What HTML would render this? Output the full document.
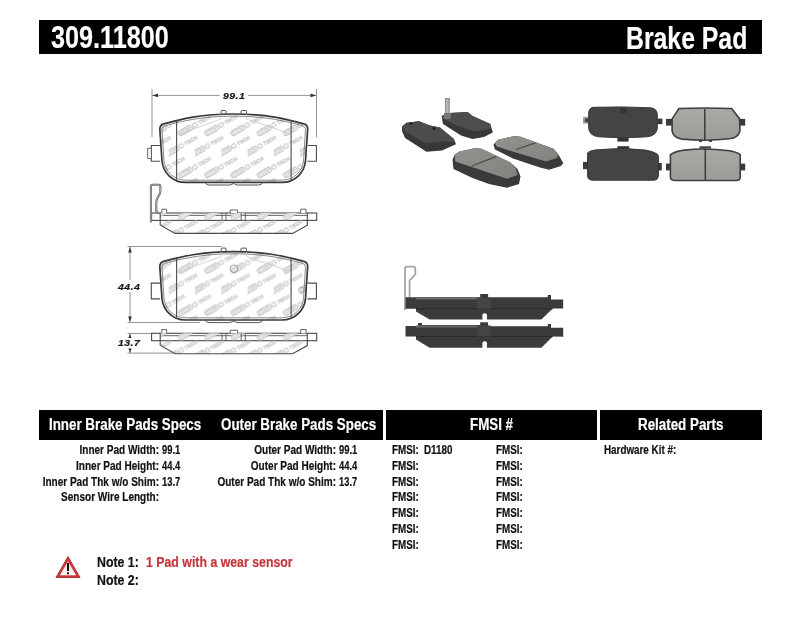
<!DOCTYPE html>
<html><head><meta charset="utf-8">
<style>
html,body{margin:0;padding:0;background:#fff;width:800px;height:619px;overflow:hidden;position:relative;font-family:"Liberation Sans",sans-serif;}
.t{position:absolute;white-space:nowrap;font-weight:bold;line-height:1;transform-origin:0 0;-webkit-text-stroke:0.2px currentColor;}
.bar{position:absolute;background:#000;}
.w{color:#fff;}
.r{text-align:right;}
.lab{font-size:12px;text-align:right;transform-origin:100% 0;transform:scaleX(0.835);color:#111;}
.val{font-size:12px;transform:scaleX(0.82);color:#111;}
.v2{transform:scaleX(0.78);}
.dim{font-size:9.4px;font-style:italic;color:#1a1a1a;transform:scaleX(1.12);letter-spacing:0.4px;}
.note{font-size:14.5px;transform:scaleX(0.85);color:#111;}
</style></head><body>
<!-- top title bar -->
<div class="bar" style="left:39px;top:20px;width:723px;height:34px;"></div>
<div class="t w" style="left:51px;top:21px;font-size:32px;transform:scaleX(0.788);">309.11800</div>
<div class="t w" style="left:626px;top:22px;font-size:32px;transform:scaleX(0.775);">Brake Pad</div>


<!-- technical drawing -->
<svg style="position:absolute;left:0;top:0;" width="800" height="400" viewBox="0 0 800 400">
<defs>
<pattern id="wm" patternUnits="userSpaceOnUse" width="26.25" height="42" x="195" y="125">
  <g id="wmi" transform="rotate(-30)">
    <rect x="-18.5" y="-2.6" width="15" height="5.2" rx="1.6" fill="#f4f4f4" stroke="#b4b4b4" stroke-width="0.8"/>
    <text x="-11" y="1.8" font-family="Liberation Sans" font-weight="bold" font-size="5" text-anchor="middle" fill="#c6c6c6" stroke="none" textLength="13" lengthAdjust="spacingAndGlyphs">STOP</text>
    <circle cx="0" cy="0" r="2.3" fill="#f4f4f4" stroke="#b0b0b0" stroke-width="0.7"/>
    <text x="11" y="1.8" font-family="Liberation Sans" font-weight="bold" font-size="5" text-anchor="middle" fill="none" stroke="#c4c4c4" stroke-width="0.45" textLength="14" lengthAdjust="spacingAndGlyphs">TECH</text>
  </g>
  <use href="#wmi" x="26.25"/>
  <use href="#wmi" y="42"/>
  <use href="#wmi" x="26.25" y="42"/>
  <use href="#wmi" x="12.5" y="21"/>
  <use href="#wmi" x="-13.75" y="21"/>
</pattern>
<g id="padface">
  <path d="M159.8 129 Q159.8 124.5 164.5 123.6 C180 119.5 200 114 233.75 114 C267.5 114 287.5 119.5 303 123.6 Q307.7 124.5 307.7 129 L305.5 161 C304.5 172 295.5 182.4 282 182.4 L185.5 182.4 C172 182.4 163 172 162 161 Z" fill="url(#wm)" stroke="#383838" stroke-width="1.7"/>
  <path d="M162 129.5 Q162 126.3 165.5 125.6 C181 121.5 201 116.2 233.75 116.2 C266.5 116.2 286.5 121.5 302 125.6 Q305.5 126.3 305.5 129.5 L303.5 161 C302.5 170.5 294.5 180.2 281.5 180.2 L186 180.2 C173 180.2 165 170.5 164 161 Z" fill="none" stroke="#6a6a6a" stroke-width="0.8"/>
  <path d="M160 145.5 L151.3 145.5 L151.3 161.3 L160 161.3" fill="#fff" stroke="#4a4a4a" stroke-width="1.1"/>
  <path d="M307.5 145.5 L316.4 145.5 L316.4 161.3 L307.5 161.3" fill="#fff" stroke="#4a4a4a" stroke-width="1.1"/>
  <path d="M221.2 114.2 L221.2 111.2 Q221.2 110.5 222 110.5 L225.3 110.5 Q226 110.5 226 111.2 L226 113.8" fill="none" stroke="#555" stroke-width="1"/>
  <path d="M241 113.8 L241 111.2 Q241 110.5 241.8 110.5 L245.8 110.5 Q246.5 110.5 246.5 111.2 L246.5 114.2" fill="none" stroke="#555" stroke-width="1"/>
  <path d="M205.4 182.6 Q206 185 209 185 L230 185 L233.5 183.5 L237 185 L258.5 185 Q262 185 262.5 182.6" fill="none" stroke="#555" stroke-width="1"/>
  <line x1="176.6" y1="120.8" x2="176.6" y2="179.8" stroke="#4a4a4a" stroke-width="1.1"/>
  <line x1="291.1" y1="120.2" x2="291.1" y2="180.2" stroke="#4a4a4a" stroke-width="1.1"/>
  <path d="M177 135 L221 119 L221 114" fill="none" stroke="#c2c2c2" stroke-width="0.7"/>
  <path d="M246.5 114 L246.5 119 L291 134" fill="none" stroke="#c2c2c2" stroke-width="0.7"/>
</g>
<g id="sideview">
  <rect x="151.6" y="213" width="165.1" height="7.4" fill="#fff" stroke="#4a4a4a" stroke-width="1.1"/>
  <line x1="160.2" y1="215.4" x2="307.3" y2="215.4" stroke="#555" stroke-width="0.9"/>
  <path d="M160.2 213 L160.2 225 L175 233.4 L292.6 233.4 L307.3 225.3 L307.3 213" fill="url(#wm)" stroke="#4a4a4a" stroke-width="1.1"/>
  <path d="M161.8 213 L161.8 209.2 L166.6 209.2 L166.6 213" fill="#fff" stroke="#555" stroke-width="0.9"/>
  <path d="M230.2 213 L230.2 210 L237.5 210 L237.5 213" fill="#fff" stroke="#555" stroke-width="0.9"/>
  <path d="M300.7 213 L300.7 209.2 L306 209.2 L306 213" fill="#fff" stroke="#555" stroke-width="0.9"/>
  <line x1="222" y1="213" x2="222" y2="220.4" stroke="#555" stroke-width="0.9"/>
  <line x1="226" y1="213" x2="226" y2="220.4" stroke="#555" stroke-width="0.9"/>
  <line x1="241.2" y1="213" x2="241.2" y2="220.4" stroke="#555" stroke-width="0.9"/>
  <line x1="245.3" y1="213" x2="245.3" y2="220.4" stroke="#555" stroke-width="0.9"/>
</g>
</defs>
<use href="#padface"/>
<path d="M147.7 148.3 L151.3 148.3 L151.3 158.6 L147.7 158.6 Z" fill="#fff" stroke="#555" stroke-width="0.9"/>
<use href="#padface" transform="translate(0 137.6)"/>
<circle cx="234" cy="268.7" r="3.8" fill="none" stroke="#888" stroke-width="0.8"/>
<circle cx="301.5" cy="290" r="2.8" fill="none" stroke="#999" stroke-width="0.7"/>
<use href="#sideview"/>
<path d="M150.9 222.2 L150.9 187 Q150.9 184.8 153 184.8 L158.4 184.8 Q160.4 184.8 160.4 187 L160.4 191 C160.4 196.5 156.3 196.5 156.3 202 L156.3 210.5 Q156.5 213 160 213" fill="none" stroke="#505050" stroke-width="2"/>
<path d="M150.9 222.2 L150.9 187 Q150.9 184.8 153 184.8 L158.4 184.8 Q160.4 184.8 160.4 187 L160.4 191 C160.4 196.5 156.3 196.5 156.3 202 L156.3 210.5 Q156.5 213 160 213" fill="none" stroke="#e0e0e0" stroke-width="0.7"/>
<use href="#sideview" transform="translate(0 120.3)"/>
<!-- dimensions -->
<g stroke="#7a7a7a" stroke-width="0.8" fill="none">
  <line x1="152" y1="89" x2="152" y2="137.3"/>
  <line x1="316.5" y1="89" x2="316.5" y2="137.3"/>
  <line x1="152" y1="95.4" x2="219.6" y2="95.4"/>
  <line x1="247.8" y1="95.4" x2="316.5" y2="95.4"/>
  <line x1="127.5" y1="246.5" x2="222" y2="246.5"/>
  <line x1="127.5" y1="322.5" x2="200" y2="322.5"/>
  <line x1="130" y1="247" x2="130" y2="280"/>
  <line x1="130" y1="292" x2="130" y2="322"/>
  <line x1="127.5" y1="333.5" x2="151" y2="333.5"/>
  <line x1="127.5" y1="353.1" x2="176" y2="353.1"/>
  <line x1="130" y1="334" x2="130" y2="338"/>
  <line x1="130" y1="348" x2="130" y2="353"/>
</g>
<g fill="#333">
  <path d="M152.5 95.4 L158 93.6 L158 97.2 Z"/>
  <path d="M316 95.4 L310.5 93.6 L310.5 97.2 Z"/>
  <path d="M130 247 L128.2 252.5 L131.8 252.5 Z"/>
  <path d="M130 322 L128.2 316.5 L131.8 316.5 Z"/>
  <path d="M130 333.8 L128.4 338 L131.6 338 Z"/>
  <path d="M130 352.8 L128.4 348.6 L131.6 348.6 Z"/>
</g>
</svg>
<div class="t dim" style="left:223px;top:91px;">99.1</div>
<div class="t dim" style="left:117.5px;top:281.5px;">44.4</div>
<div class="t dim" style="left:118px;top:338px;">13.7</div>


<!-- photos -->
<svg style="position:absolute;left:380px;top:85px;filter:blur(0.35px);" width="400" height="280" viewBox="380 85 400 280">
<defs>
<linearGradient id="dk" x1="0" y1="0" x2="0" y2="1"><stop offset="0" stop-color="#4b4b4d"/><stop offset="1" stop-color="#3c3c3e"/></linearGradient>
<linearGradient id="lt" x1="0" y1="0" x2="1" y2="1"><stop offset="0" stop-color="#92928e"/><stop offset="1" stop-color="#82827e"/></linearGradient>
<linearGradient id="lt2" x1="0" y1="0" x2="0" y2="1"><stop offset="0" stop-color="#a9a9a5"/><stop offset="1" stop-color="#9b9b97"/></linearGradient>
</defs>
<!-- pad 1 -->
<path d="M402 126.5 L406.5 122.8 L419 121.2 L430 125.4 L440 127.5 L454 139 L456 144.3 L442 150.6 L426.5 151.7 L405 138 L402 131 Z" fill="#38383a"/>
<path d="M402.3 126.5 L406.5 122.8 L419 121.2 L430 125.4 L440 127.5 L453.8 139.1 L454.5 142.5 L446.4 141.2 L425.4 143.3 L405.5 131.7 Z" fill="#4c4c4e"/>
<circle cx="411" cy="123.5" r="1.3" fill="#222"/>
<circle cx="434" cy="128.5" r="1.5" fill="#222"/>
<!-- pad 2 with sensor -->
<path d="M445 98 L449.8 98 L449.8 116 L445 116 Z" fill="#8d8d8b"/>
<path d="M446 99 L448.5 99 L448.5 114 L446 114 Z" fill="#b5b5b2"/>
<path d="M441.6 116 L449.8 112.9 L467.6 112 L472.5 116 L490.4 124 L492.8 132.4 L484 137 L472.5 139 L461 135.6 L443 124 Z" fill="#38383a"/>
<path d="M441.6 116 L449.8 112.9 L467.6 112 L472.5 116 L490.4 124 L491 128.5 L475 131.5 L458 126 L443 119 Z" fill="#4e4e50"/>
<path d="M444 113 L451 113 L451 119 L444 119 Z" fill="#777"/>
<!-- pad 3 light -->
<path d="M454.5 154.7 L452.5 160 L453.5 169 L472.5 178 L489 184 L507 187.8 L519 184 L520.5 176.5 L517.5 169 L510 162.3 L481.5 148.8 L475.5 148 L459 151.8 Z" fill="#3a3a3c"/>
<path d="M454.5 154.7 L459 151.8 L475.5 148 L481.5 148.8 L510 162.3 L516 169 L517.5 175 L507 178.8 L455.3 161.5 Z" fill="url(#lt)"/>
<path d="M471.8 166 L496.5 156.3" stroke="#4a4a48" stroke-width="1.3"/>
<!-- pad 4 light -->
<path d="M495 142.8 L493.5 145 L495 149.5 L513 158.5 L540 167.5 L549 169.8 L561 166 L563.3 163 L558 154 L553.5 148.8 L520.5 136.8 L514.5 136 L498 139.8 Z" fill="#3a3a3c"/>
<path d="M495 142.8 L498 139.8 L514.5 136 L520.5 136.8 L553.5 148.8 L558 154 L557.3 157.8 L546 161.5 L496.5 146.5 Z" fill="url(#lt)"/>
<path d="M516 149.5 L535.5 142.8" stroke="#4a4a48" stroke-width="1.3"/>

<!-- right group: top-left dark -->
<path d="M583 116.9 L589 116.9 L589 123.6 L583 123.6 Z" fill="#9a9a98"/>
<path d="M585 118.5 L588 118.5 L588 122 L585 122 Z" fill="#444"/>
<path d="M657 118.6 L662.4 118.6 L662.4 124.2 L657 124.2 Z" fill="#3a3a3c"/>
<path d="M617.4 136 L628.6 136 L628.6 141.6 L617.4 141.6 Z" fill="#333"/>
<path d="M593 107.3 Q623 106.3 651 107.8 Q657.3 108.8 657.3 114.5 L657.3 128 Q657 135.3 647.5 136.8 Q623 138.8 598.5 136.8 Q588.7 135.3 588.7 128 L588.7 113 Q588.7 108.3 593 107.3 Z" fill="#444446" stroke="#39393b" stroke-width="1"/>
<rect x="620" y="108" width="7" height="5" fill="#363638"/>
<!-- bottom-left dark -->
<path d="M583 161.9 L588 161.9 L588 169.2 L583 169.2 Z" fill="#3a3a3c"/>
<path d="M658 163 L661.8 163 L661.8 170.4 L658 170.4 Z" fill="#3a3a3c"/>
<path d="M617.4 146.2 L629.2 146.2 L629.2 149 L617.4 149 Z" fill="#333"/>
<path d="M587.6 152.9 Q590 150 600.5 149.6 Q623 147 645.5 150.1 Q654 151.5 657.9 154.6 Q658.4 156 658.4 158 L658.4 176 Q658 180 654.5 180.2 L592.6 180.2 Q587.6 180 587.6 176 Z" fill="#444446" stroke="#363638" stroke-width="1"/>
<!-- top-right light -->
<path d="M666 118.9 L672 118.9 L672 125.6 L666 125.6 Z" fill="#3a3a3c"/>
<path d="M740 118.9 L745.2 118.9 L745.2 125.6 L740 125.6 Z" fill="#3a3a3c"/>
<path d="M699 139 L702 139 L702 142 L699 142 Z M709 139 L712 139 L712 142 L709 142 Z" fill="#444"/>
<path d="M678.9 108.5 Q705 107.5 731.7 108.5 L739.6 118.9 L740 131 Q738 138 729.5 138.8 Q706 141.5 682.2 139.1 Q673 137.5 672.1 131.2 L672.1 118.9 Z" fill="url(#lt2)" stroke="#3e3e40" stroke-width="1.6"/>
<line x1="704.8" y1="109" x2="704.8" y2="140" stroke="#3a3a3a" stroke-width="1.5"/>
<!-- bottom-right light -->
<path d="M666 163.6 L671 163.6 L671 170.4 L666 170.4 Z" fill="#3a3a3c"/>
<path d="M740 163.6 L745.2 163.6 L745.2 170.4 L740 170.4 Z" fill="#3a3a3c"/>
<path d="M699.5 146.3 L711 146.3 L711 148.5 L699.5 148.5 Z" fill="#444"/>
<path d="M670.4 154.6 Q676 151 684.5 150.1 Q705 147.5 729.5 150.7 Q737 152 740.2 154.6 L740.2 177.1 Q740 180.3 736 180.5 L674.4 180.5 Q670.4 180.3 670.4 177.1 Z" fill="url(#lt2)" stroke="#3e3e40" stroke-width="1.6"/>
<line x1="705.3" y1="148.5" x2="705.3" y2="180.5" stroke="#3a3a3a" stroke-width="1.5"/>

<!-- side view photo 1 -->
<path d="M405 310 L405 268.5 Q405 266.6 407 266.6 L413 266.6 Q415.3 266.6 415.3 269 L415.3 274.5 L409.6 280.5 L409.6 297" fill="none" stroke="#a5a5a3" stroke-width="1.8"/>
<path d="M405.5 297.2 L480.2 297.2 L480.2 294 L488.1 294 L488.1 297.2 L547.8 297.2 L547.8 295 L551 295 L551 299.6 L563.2 299.6 L563.2 308.5 L552.7 308.6 L541.4 319.6 L487 319.6 L487 314.5 Q484.7 312 482.4 314.5 L482.4 319.6 L429.7 319.6 L416 311.5 L416 308.7 L405.5 308.7 Z" fill="#3b3b3d"/>
<path d="M416 297.5 L477 297.5 L477 299.5 L416 299.5 Z" fill="#6a6a6a"/>
<path d="M416 308.7 L552.7 308.7" stroke="#2a2a2c" stroke-width="1"/>
<path d="M477.3 297.5 L490.9 297.5 L490.9 308.7 L477.3 308.7 Z" fill="#454547"/>
<!-- side view photo 2 -->
<path d="M405.5 326 L418 326 L418 323 L422 323 L422 325 L480.2 325 L480.2 322.3 L488.1 322.3 L488.1 326.3 L547.8 326.3 L547.8 324 L551 324 L551 327.8 L563.2 327.8 L563.2 336.7 L552.7 336.6 L541.4 347.8 L487 347.8 L487 342.5 Q484.7 340 482.4 342.5 L482.4 347.8 L429.7 347.8 L416 339.5 L416 336.5 L405.5 336.5 Z" fill="#3b3b3d"/>
<path d="M416 325.5 L477 325.5 L477 327.5 L416 327.5 Z" fill="#666"/>
<path d="M416 336.5 L552.7 336.5" stroke="#2a2a2c" stroke-width="1"/>
<path d="M477.3 325.5 L490.9 325.5 L490.9 336.5 L477.3 336.5 Z" fill="#454547"/>
</svg>

<!-- spec header bars -->
<div class="bar" style="left:39px;top:410px;width:344px;height:30px;"></div>
<div class="bar" style="left:386px;top:410px;width:211px;height:30px;"></div>
<div class="bar" style="left:600px;top:410px;width:162px;height:30px;"></div>
<div class="t w" style="left:49px;top:417px;font-size:16px;transform:scaleX(0.835);">Inner Brake Pads Specs</div>
<div class="t w" style="left:221px;top:417px;font-size:16px;transform:scaleX(0.835);">Outer Brake Pads Specs</div>
<div class="t w" style="left:470px;top:417px;font-size:16px;transform:scaleX(0.835);">FMSI #</div>
<div class="t w" style="left:638px;top:417px;font-size:16px;transform:scaleX(0.835);">Related Parts</div>


<!-- spec rows -->
<div class="t lab" style="left:0;width:159px;top:444px;">Inner Pad Width:</div>
<div class="t val v2" style="left:161.5px;top:444px;">99.1</div>
<div class="t lab" style="left:0;width:159px;top:460px;">Inner Pad Height:</div>
<div class="t val v2" style="left:161.5px;top:460px;">44.4</div>
<div class="t lab" style="left:0;width:159px;top:476px;">Inner Pad Thk w/o Shim:</div>
<div class="t val v2" style="left:161.5px;top:476px;">13.7</div>
<div class="t lab" style="left:0;width:159px;top:491px;">Sensor Wire Length:</div>
<div class="t lab" style="left:0;width:336px;top:444px;">Outer Pad Width:</div>
<div class="t val v2" style="left:338.5px;top:444px;">99.1</div>
<div class="t lab" style="left:0;width:336px;top:460px;">Outer Pad Height:</div>
<div class="t val v2" style="left:338.5px;top:460px;">44.4</div>
<div class="t lab" style="left:0;width:336px;top:476px;">Outer Pad Thk w/o Shim:</div>
<div class="t val v2" style="left:338.5px;top:476px;">13.7</div>
<div class="t val" style="left:392px;top:444px;">FMSI:</div>
<div class="t val" style="left:496px;top:444px;">FMSI:</div>
<div class="t val" style="left:392px;top:460px;">FMSI:</div>
<div class="t val" style="left:496px;top:460px;">FMSI:</div>
<div class="t val" style="left:392px;top:476px;">FMSI:</div>
<div class="t val" style="left:496px;top:476px;">FMSI:</div>
<div class="t val" style="left:392px;top:491px;">FMSI:</div>
<div class="t val" style="left:496px;top:491px;">FMSI:</div>
<div class="t val" style="left:392px;top:507px;">FMSI:</div>
<div class="t val" style="left:496px;top:507px;">FMSI:</div>
<div class="t val" style="left:392px;top:523px;">FMSI:</div>
<div class="t val" style="left:496px;top:523px;">FMSI:</div>
<div class="t val" style="left:392px;top:539px;">FMSI:</div>
<div class="t val" style="left:496px;top:539px;">FMSI:</div>
<div class="t val" style="left:424px;top:444px;">D1180</div>
<div class="t val" style="left:604px;top:444px;">Hardware Kit #:</div>


<!-- warning triangle -->
<svg style="position:absolute;left:50px;top:550px;" width="36" height="32" viewBox="50 550 36 32">
<defs><linearGradient id="tg" x1="0" y1="0" x2="0" y2="1"><stop offset="0" stop-color="#f7d0d0"/><stop offset="1" stop-color="#fff"/></linearGradient></defs>
<path d="M68 556.5 L80 577.5 L56 577.5 Z" fill="#c9393c" stroke="#b8333a" stroke-width="1" stroke-linejoin="round"/>
<path d="M68 561.3 L76 575.2 L60 575.2 Z" fill="url(#tg)"/>
<rect x="67" y="563" width="2" height="8" fill="#111"/>
<rect x="67" y="572.3" width="2" height="2" fill="#111"/>
</svg>
<!-- notes -->
<div class="t note" style="left:97px;top:555px;">Note 1:</div>
<div class="t note" style="left:97px;top:573px;">Note 2:</div>
<div class="t note" style="left:146px;top:555px;color:#c4373d;">1 Pad with a wear sensor</div>
</body></html>
